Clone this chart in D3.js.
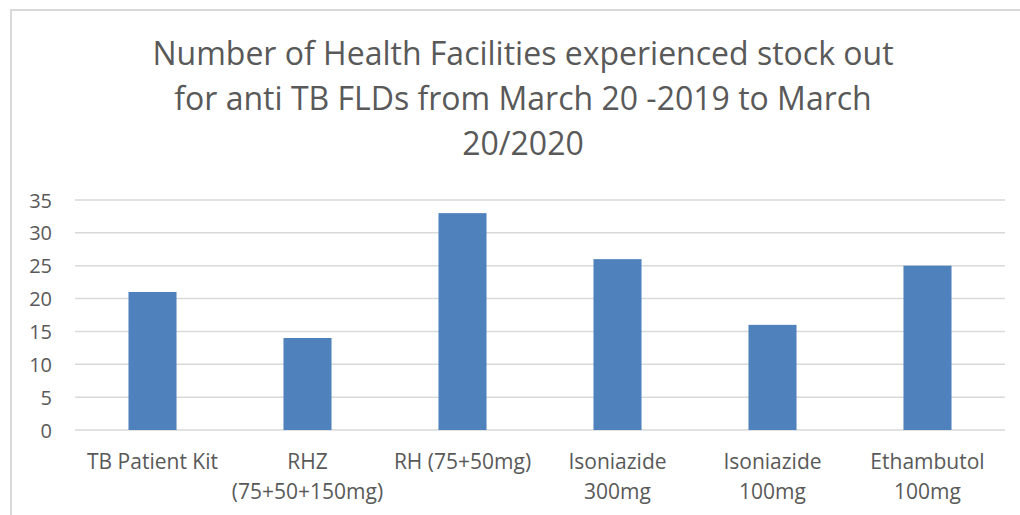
<!DOCTYPE html>
<html><head><meta charset="utf-8">
<script src="https://cdn.jsdelivr.net/npm/d3@7"></script>
<style>html,body{margin:0;padding:0;background:#fff;}svg{display:block;}</style>
</head><body>
<svg id="c" width="1020" height="515"></svg>
<script>
const categories = ["TB Patient Kit", "RHZ\n(75+50+150mg)", "RH (75+50mg)", "Isoniazide\n300mg", "Isoniazide\n100mg", "Ethambutol\n100mg"];
const values = [21, 14, 33, 26, 16, 25];
const yTicks = [0, 5, 10, 15, 20, 25, 30, 35];
const titleLines = ["Number of Health Facilities experienced stock out", "for anti TB FLDs from March 20 -2019 to March", "20/2020"];

const svg = d3.select("#c");
const font = "'Open Sans', sans-serif";
const textColor = "#595959";

// chart frame
svg.append("path").attr("d", "M11,515 V10 H1020").attr("fill", "none").attr("stroke", "#d9d9d9").attr("stroke-width", 2);

const x = d3.scaleBand().domain(categories).range([75, 1005]).paddingInner(0.69).paddingOuter(0.345);
const y = d3.scaleLinear().domain([0, 35]).range([430, 200]);

// gridlines
svg.append("g").selectAll("line").data(yTicks).join("line")
  .attr("x1", 75).attr("x2", 1005)
  .attr("y1", d => y(d)).attr("y2", d => y(d))
  .attr("stroke", "#d9d9d9").attr("stroke-width", 1.5);

// y axis labels
const yAxis = d3.axisLeft(y).tickValues(yTicks).tickSize(0).tickPadding(0);
const ya = svg.append("g").attr("transform", "translate(52,0)").call(yAxis);
ya.select(".domain").remove();
ya.selectAll("text").attr("font-family", font).attr("font-size", 20).attr("fill", textColor).attr("dy", "0.35em");

// bars
svg.append("g").selectAll("rect").data(values).join("rect")
  .attr("x", (d, i) => x(categories[i]))
  .attr("width", x.bandwidth())
  .attr("y", d => y(d))
  .attr("height", d => y(0) - y(d))
  .attr("fill", "#4f81bd");

// x labels
const xl = svg.append("g");
categories.forEach(c => {
  const lines = c.split("\n");
  const t = xl.append("text").attr("x", x(c) + x.bandwidth() / 2).attr("y", 469)
    .attr("text-anchor", "middle").attr("font-family", font).attr("font-size", 21).attr("fill", textColor);
  lines.forEach((l, j) => t.append("tspan").attr("x", x(c) + x.bandwidth() / 2).attr("dy", j === 0 ? 0 : 30).text(l));
});

// title
const tt = svg.append("text").attr("text-anchor", "middle").attr("font-family", font).attr("font-size", 32).attr("fill", textColor);
titleLines.forEach((l, j) => tt.append("tspan").attr("x", 523).attr("y", 65 + j * 45).text(l));
</script>
</body></html>
